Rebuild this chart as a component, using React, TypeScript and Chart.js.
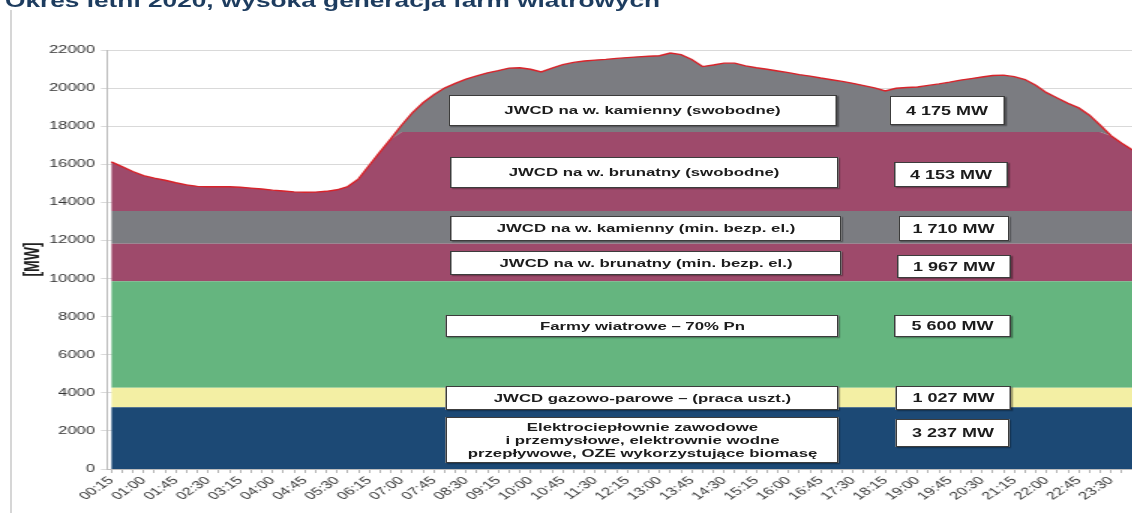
import React, { useEffect, useRef } from "react";
import { Chart, registerables } from "chart.js";

Chart.register(...registerables);

// ---------- data ----------
const TITLE = "Okres letni 2020, wysoka generacja farm wiatrowych";

const TIMES = [
  "00:15","00:30","00:45","01:00","01:15","01:30","01:45","02:00","02:15","02:30","02:45","03:00",
  "03:15","03:30","03:45","04:00","04:15","04:30","04:45","05:00","05:15","05:30","05:45","06:00",
  "06:15","06:30","06:45","07:00","07:15","07:30","07:45","08:00","08:15","08:30","08:45","09:00",
  "09:15","09:30","09:45","10:00","10:15","10:30","10:45","11:00","11:15","11:30","11:45","12:00",
  "12:15","12:30","12:45","13:00","13:15","13:30","13:45","14:00","14:15","14:30","14:45","15:00",
  "15:15","15:30","15:45","16:00","16:15","16:30","16:45","17:00","17:15","17:30","17:45","18:00",
  "18:15","18:30","18:45","19:00","19:15","19:30","19:45","20:00","20:15","20:30","20:45","21:00",
  "21:15","21:30","21:45","22:00","22:15","22:30","22:45","23:00","23:15","23:30","23:45","24:00",
];

// total demand curve [MW]
const DEMAND = [
  16130, 15880, 15620, 15400, 15270, 15160, 15030, 14920, 14840, 14820, 14820, 14820,
  14790, 14750, 14700, 14640, 14595, 14550, 14530, 14540, 14580, 14660, 14830, 15230,
  15950, 16650, 17330, 18050, 18700, 19230, 19650, 20000, 20250, 20470, 20640, 20800,
  20920, 21050, 21070, 20990, 20850, 21050, 21230, 21350, 21420, 21470, 21510, 21560,
  21600, 21640, 21670, 21700, 21840, 21760, 21500, 21130, 21210, 21310, 21310, 21170,
  21070, 20990, 20900, 20810, 20710, 20630, 20530, 20440, 20350, 20250, 20130, 20010,
  19850, 19990, 20030, 20060, 20140, 20220, 20310, 20420, 20500, 20580, 20660, 20680,
  20600, 20450, 20150, 19760, 19480, 19200, 18960, 18580, 18050, 17500, 17100, 16750,
];

// layers from bottom to top
const LAYER_NAMES = [
  "Elektrociepłownie zawodowe\ni przemysłowe, elektrownie wodne\nprzepływowe, OZE wykorzystujące biomasę",
  "JWCD gazowo-parowe – (praca uszt.)",
  "Farmy wiatrowe – 70% Pn",
  "JWCD na w. brunatny (min. bezp. el.)",
  "JWCD na w. kamienny (min. bezp. el.)",
  "JWCD na w. brunatny (swobodne)",
  "JWCD na w. kamienny (swobodne)",
];
const LAYER_MW = [3237, 1027, 5600, 1967, 1710, 4153, 4175];
const LAYER_COLORS = ["#1c4975", "#f3efa4", "#65b57f", "#9e4a6b", "#7b7c81", "#9e4a6b", "#7b7c81"];

const Y_MIN = 0;
const Y_MAX = 22000;
const Y_STEP = 2000;

// ---------- layout (final pixel coords of annotation boxes) ----------
const S = 1.5; // horizontal stretch of the whole figure
const BOX_LAYOUT = [
  { label: [446, 417, 393, 46], value: [896, 419, 114, 28] },
  { label: [446, 386, 393, 24], value: [896, 386, 115, 24] },
  { label: [446, 315, 393, 22], value: [894, 315, 117, 22] },
  { label: [450, 251, 392, 24], value: [897, 255, 114, 23] },
  { label: [450, 216, 392, 25], value: [898, 216, 111, 25] },
  { label: [450, 157, 388, 31], value: [894, 162, 114, 25] },
  { label: [448, 95, 389, 31], value: [889, 96, 116, 29] },
];

const fmtMW = (n: number) => String(n).replace(/\B(?=(\d{3})+(?!\d))/g, " ") + " MW";

const FONT = "'Liberation Sans', Arial, sans-serif";

export default function App() {
  const ref = useRef<HTMLCanvasElement>(null);

  useEffect(() => {
    const tops: number[] = [];
    let acc = 0;
    for (let k = 0; k < 5; k++) {
      acc += LAYER_MW[k];
      tops.push(acc);
    }
    const brunCap = acc + LAYER_MW[5];
    const series = [
      ...tops.map((t) => TIMES.map((_, i) => ({ x: i, y: t }))),
      DEMAND.map((v, i) => ({ x: i, y: Math.min(v, brunCap) })),
      DEMAND.map((v, i) => ({ x: i, y: v })),
    ];
    const datasets = series.map((data, k) => ({
      label: LAYER_NAMES[k],
      data,
      backgroundColor: LAYER_COLORS[k],
      borderColor: k === 6 ? "#d8232a" : "rgba(0,0,0,0)",
      borderWidth: k === 6 ? 1.4 : 0,
      fill: k === 0 ? "origin" : "-1",
      pointRadius: 0,
      tension: 0,
      order: k === 6 ? 0 : 1,
    }));

    const chart = new Chart(ref.current!, {
      type: "line",
      data: { datasets: datasets as any },
      options: {
        responsive: false,
        animation: false,
        devicePixelRatio: 1,
        layout: { padding: { top: 50, left: 0, right: 0, bottom: 0 } },
        plugins: { legend: { display: false }, tooltip: { enabled: false } },
        scales: {
          x: {
            type: "linear",
            min: -0.4,
            max: TIMES.length - 1,
            afterBuildTicks: (scale: any) => {
              scale.ticks = TIMES.map((_, i) => ({ value: i }));
            },
            afterFit: (scale: any) => {
              scale.height = 44;
              scale.paddingLeft = 0;
              scale.paddingRight = 0;
            },
            grid: { drawOnChartArea: false, tickLength: 4, color: "#b5b5b5" },
            border: { color: "#bdbdbd" },
            ticks: {
              autoSkip: false,
              maxRotation: 45,
              minRotation: 45,
              padding: 1,
              color: "#333",
              font: { family: FONT, size: 11 },
              callback: (v: any) => (Number.isInteger(v) && v % 3 === 0 ? TIMES[v] : ""),
            },
          },
          y: {
            min: Y_MIN,
            max: Y_MAX,
            afterFit: (scale: any) => {
              scale.width = 107 / S;
            },
            grid: { color: "#d9d9d9", tickLength: 4 },
            border: { color: "#bdbdbd" },
            ticks: {
              stepSize: Y_STEP,
              padding: 4,
              color: "#333",
              font: { family: FONT, size: 11 },
              callback: (v: any) => String(v),
            },
            title: {
              display: true,
              text: "[MW]",
              color: "#222",
              font: { family: FONT, size: 14, weight: "bold" },
              padding: { top: 14, bottom: 0 },
            },
          },
        },
      },
    });
    return () => chart.destroy();
  }, []);

  const boxBase: React.CSSProperties = {
    position: "absolute",
    background: "#fff",
    border: "1.3px solid #3c3c3c",
    boxShadow: "1px 1px 1px rgba(0,0,0,0.35)",
    display: "flex",
    alignItems: "center",
    justifyContent: "center",
    textAlign: "center",
    fontWeight: "bold",
    color: "#1c1c1c",
    boxSizing: "border-box",
    whiteSpace: "pre-line",
  };

  return (
    <div style={{ position: "absolute", left: 0, top: 0, width: 1132, height: 513, overflow: "hidden", background: "#fff" }}>
      <div style={{ position: "absolute", left: 10, top: 10, width: 1.5, height: 503, background: "#d6d6d6" }} />
      <div
        style={{
          position: "absolute",
          left: 0,
          top: 0,
          width: 755,
          height: 513,
          transform: `scaleX(${S})`,
          transformOrigin: "0 0",
          fontFamily: FONT,
        }}
      >
        <canvas ref={ref} width={755} height={513} style={{ display: "block" }} />
        <div
          style={{
            position: "absolute",
            left: 5 / S,
            top: -7,
            fontSize: 17.5,
            lineHeight: "17.5px",
            fontWeight: "bold",
            color: "#1d3c5f",
            whiteSpace: "nowrap",
          }}
        >
          {TITLE}
        </div>
        {BOX_LAYOUT.map((b, k) => (
          <React.Fragment key={k}>
            <div
              style={{
                ...boxBase,
                left: b.label[0] / S,
                top: b.label[1],
                width: b.label[2] / S,
                height: b.label[3],
                fontSize: 11.2,
                lineHeight: "13px",
              }}
            >
              {LAYER_NAMES[k]}
            </div>
            <div
              style={{
                ...boxBase,
                left: b.value[0] / S,
                top: b.value[1],
                width: b.value[2] / S,
                height: b.value[3],
                fontSize: 12,
                lineHeight: "14px",
              }}
            >
              {fmtMW(LAYER_MW[k])}
            </div>
          </React.Fragment>
        ))}
      </div>
    </div>
  );
}
